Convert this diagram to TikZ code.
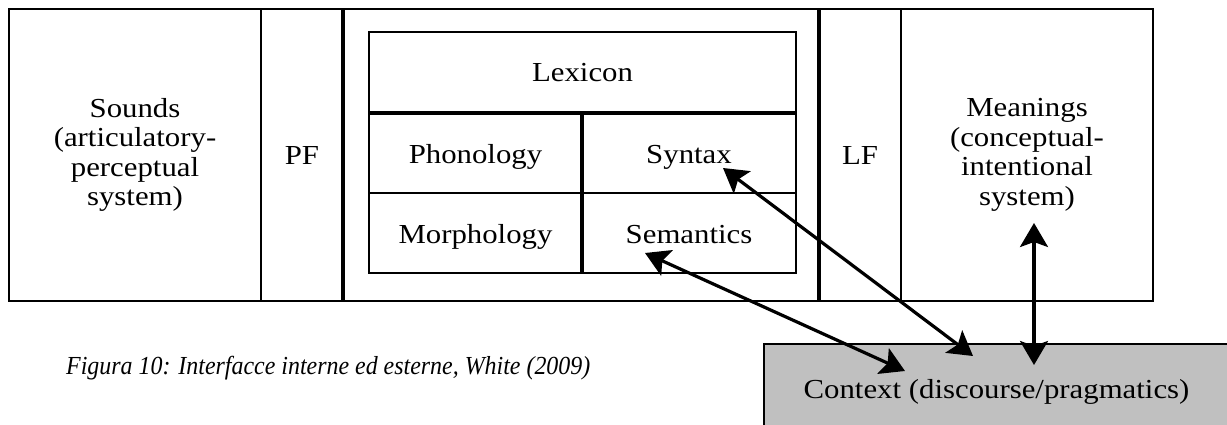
\documentclass[tikz,border=0pt]{standalone}
\usepackage{fontspec}
\setmainfont{Liberation Serif}
\newfontfamily\diagfont[FakeStretch=1.12]{Liberation Serif}
\newfontfamily\capfont[FakeStretch=0.92]{Liberation Serif}
\usetikzlibrary{arrows.meta}
\definecolor{ctxgray}{HTML}{C0C0C0}
\tikzset{
  lbl/.style={font=\diagfont\fontsize{27.5}{29.5}\selectfont, inner sep=0pt},
  multi/.style={lbl, align=center},
  captext/.style={font=\capfont\itshape\fontsize{26}{28}\selectfont, inner sep=0pt},
  thinline/.style={line width=2.2pt},
  midline/.style={line width=2.6pt},
  thickline/.style={line width=4pt},
  biarrow/.style={line width=3.2pt,
    {Stealth[length=24pt,width=28pt,inset=5pt]}-{Stealth[length=24pt,width=28pt,inset=5pt]}},
  ctxbox/.style={draw, line width=2.2pt, fill=ctxgray}
}
\begin{document}
\begin{tikzpicture}[x=1pt,y=-1pt]
\useasboundingbox (0,0) rectangle (1227,425);
% outer frame
\draw[thinline] (9,9) rectangle (1153,301);
\draw[midline] (261,9) -- (261,301);
\draw[thickline] (343,9) -- (343,301);
\draw[thickline] (819,9) -- (819,301);
\draw[midline] (901,9) -- (901,301);
% inner lexicon box
\draw[thinline] (369,32) rectangle (796,273);
\draw[thickline] (369,113) -- (796,113);
\draw[thickline] (582,113) -- (582,273);
\draw[thinline] (369,193) -- (796,193);
% texts
\node[multi] (sounds) at (135,155) {Sounds\\(articulatory-\\perceptual\\system)};
\node[lbl, anchor=base] (pf) at (302,165) {PF};
\node[lbl, anchor=base] (lexicon) at (582.5,82) {Lexicon};
\node[lbl, anchor=base] (phon) at (475.5,164) {Phonology};
\node[lbl, anchor=base] (syn) at (689,164) {Syntax};
\node[lbl, anchor=base] (morph) at (475.5,243) {Morphology};
\node[lbl, anchor=base] (sem) at (689,243) {Semantics};
\node[lbl, anchor=base] (lf) at (860,165) {LF};
\node[multi] (meanings) at (1027,155) {Meanings\\(conceptual-\\intentional\\system)};
% context box
\draw[ctxbox] (764,344) rectangle (1240,440);
\node[lbl, anchor=base] (context) at (996.5,398) {Context (discourse/pragmatics)};
% caption
\node[captext, anchor=base west] (caption) at (66,374) {Figura 10: Interfacce interne ed esterne, White (2009)};
% arrow end points
\coordinate (synTip) at (723,168);
\coordinate (ctxA) at (973,356);
\coordinate (semTip) at (645,253);
\coordinate (ctxB) at (905,371);
\coordinate (meanTip) at (1034,223);
\coordinate (ctxC) at (1034,365);
\draw[biarrow] (synTip) -- (ctxA);
\draw[biarrow] (semTip) -- (ctxB);
\draw[biarrow] (meanTip) -- (ctxC);
\end{tikzpicture}
\end{document}
